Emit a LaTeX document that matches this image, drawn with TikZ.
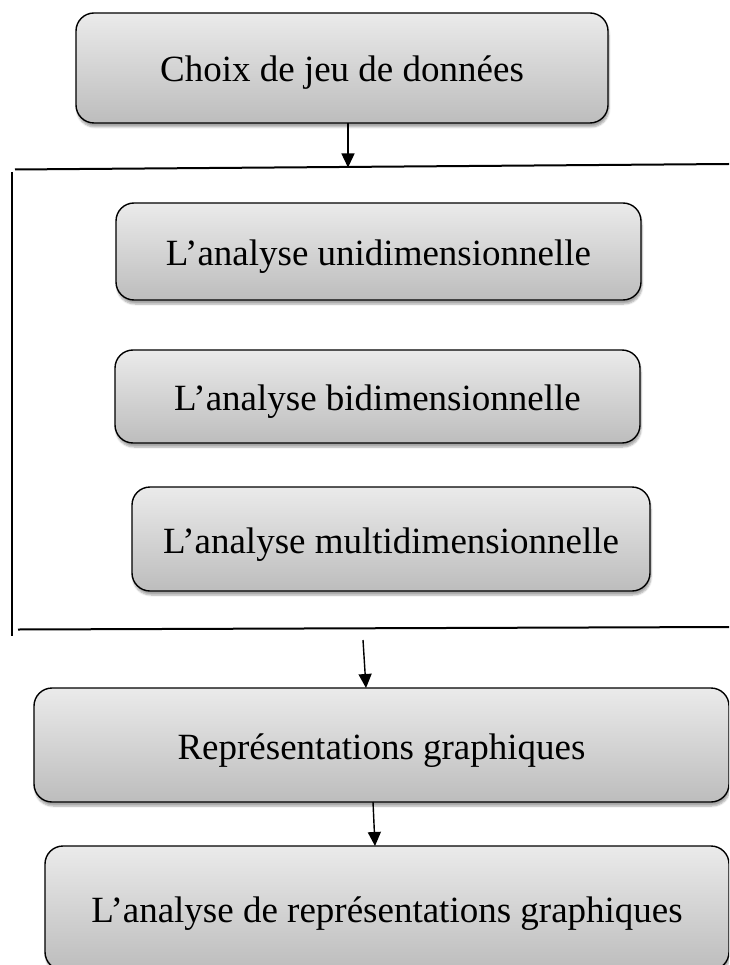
\documentclass[tikz,border=0pt]{standalone}
\usepackage{fontspec}
\setmainfont{Liberation Serif}
\usetikzlibrary{arrows.meta,shadows.blur}

\begin{document}
\begin{tikzpicture}[x=1pt, y=-1pt,
  etape/.style={draw, line width=1.4pt, rounded corners=18pt,
    top color=black!8, bottom color=black!26,
    blur shadow={shadow xshift=1pt, shadow yshift=-4pt, shadow blur steps=6, shadow opacity=35},
    font=\fontsize{37}{44}\selectfont, text height=36pt, text depth=8pt,
    inner sep=0pt, outer sep=0pt},
  fleche/.style={-{Triangle[length=14pt,width=13pt]}, line width=1.4pt},
  trait/.style={line width=2pt}]
\useasboundingbox (0,0) rectangle (729,965);
\clip (0,0) rectangle (729,965);

% les etapes
\node[etape, minimum width=532pt, minimum height=110pt] (choix) at (342,68) {Choix de jeu de données};
\node[etape, minimum width=525pt, minimum height=97pt] (uni) at (378.5,251.5) {L’analyse unidimensionnelle};
\node[etape, minimum width=525pt, minimum height=93pt] (bi) at (377.5,396.5) {L’analyse bidimensionnelle};
\node[etape, minimum width=518pt, minimum height=104pt] (multi) at (391,539) {L’analyse multidimensionnelle};
\node[etape, minimum width=695pt, minimum height=114pt] (graph) at (381.5,745) {Représentations graphiques};
\node[etape, minimum width=684pt, minimum height=124pt] (analyse) at (387,908) {L’analyse de représentations graphiques};

% le cadre des analyses
\coordinate (haut g) at (15,169.5);
\coordinate (haut d) at (729,164);
\coordinate (cote h) at (12,172);
\coordinate (cote b) at (12,636);
\coordinate (bas g) at (18,629.5);
\coordinate (bas d) at (729,627);
\draw[trait] (haut g) -- (haut d);
\draw[line width=1.6pt] (cote h) -- (cote b);
\draw[trait] (bas g) -- (bas d);

% les fleches
\coordinate (p1) at (348,167.5);
\coordinate (p2) at (363,640);
\draw[fleche] (choix.south -| p1) -- (p1);
\draw[fleche] (p2) -- ([xshift=-15.5pt]graph.north);
\draw[fleche] ([xshift=-8.5pt]graph.south) -- ([xshift=-12pt]analyse.north);
\end{tikzpicture}
\end{document}
